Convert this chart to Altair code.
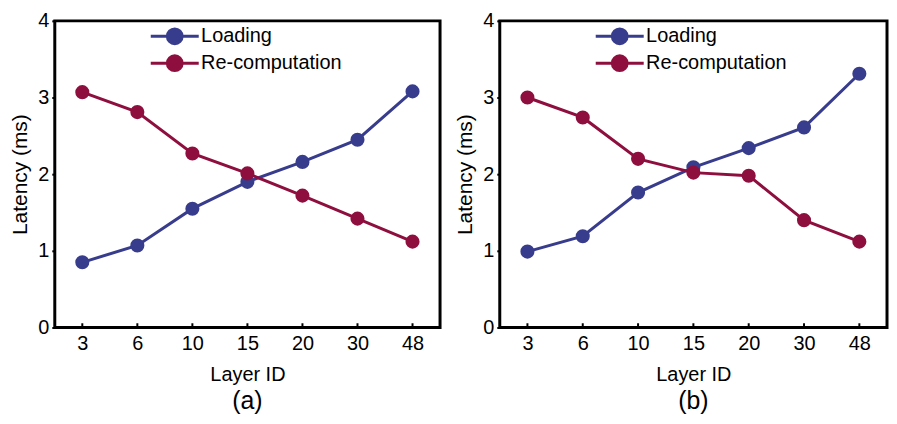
import altair as alt
import pandas as pd

layers = ["3", "6", "10", "15", "20", "30", "48"]
series_names = ["Loading", "Re-computation"]
loading_a = [0.85, 1.07, 1.55, 1.90, 2.16, 2.45, 3.08]
recomp_a = [3.07, 2.81, 2.27, 2.01, 1.72, 1.42, 1.12]
loading_b = [0.99, 1.19, 1.76, 2.09, 2.34, 2.61, 3.31]
recomp_b = [3.00, 2.74, 2.20, 2.02, 1.98, 1.40, 1.12]
y_ticks = [0, 1, 2, 3, 4]
captions = ["(a)", "(b)"]

COLORS = ["#383c8c", "#8e0f3e"]
FONT = "Liberation Sans"
FS = 20


def make_df(loading, recomp):
    rows = []
    for i, l in enumerate(layers):
        rows.append({"layer": l, "order": i, "series": series_names[0], "val": loading[i]})
        rows.append({"layer": l, "order": i, "series": series_names[1], "val": recomp[i]})
    return pd.DataFrame(rows)


def panel(loading, recomp, caption, w):
    df = make_df(loading, recomp)
    ticks_df = pd.DataFrame({"layer": layers})
    x = alt.X("layer:N", sort=layers, scale=alt.Scale(type="point", padding=0.5),
              axis=alt.Axis(title="Layer ID", labelAngle=0, tickSize=0, domain=False,
                            labelFontSize=FS, titleFontSize=FS, labelPadding=6,
                            titlePadding=11, labelColor="#000", titleColor="#000",
                            titleFontWeight="normal", labelFont=FONT, titleFont=FONT))
    y = alt.Y("val:Q", scale=alt.Scale(domain=[0, 4], nice=False),
              axis=alt.Axis(title="Latency (ms)", values=y_ticks, format="d", tickSize=3,
                            tickWidth=2, tickColor="#000", domain=False, grid=False,
                            labelFontSize=FS, titleFontSize=21, labelPadding=3,
                            titlePadding=7, labelColor="#000", titleColor="#000",
                            titleFontWeight="normal", labelFont=FONT, titleFont=FONT))
    color = alt.Color("series:N", scale=alt.Scale(domain=series_names, range=COLORS),
                      legend=alt.Legend(title=None, orient="none", legendX=108, legendY=3,
                                        padding=0,
                                        labelFontSize=FS, labelFont=FONT, labelColor="#000",
                                        symbolType="M-2.2,0L2.2,0M-0.68,0A0.68,0.68 0 1,1 0.68,0A0.68,0.68 0 1,1 -0.68,0Z",
                                        symbolSize=480, symbolStrokeWidth=3,
                                        rowPadding=0, labelOffset=14))
    base = alt.Chart(df)
    line = base.mark_line(strokeWidth=3).encode(x=x, y=y, color=color, order="order:Q")
    pts = base.mark_point(filled=True, size=200, opacity=1).encode(x=x, y=y, color=color)
    xticks = alt.Chart(ticks_df).mark_rule(color="#000", strokeWidth=2).encode(
        x=alt.X("layer:N", sort=layers), y=alt.datum(0), y2=alt.datum(0.055))
    return alt.layer(line, pts, xticks).properties(
        width=w, height=308,
        title=alt.TitleParams(caption, orient="bottom", fontSize=25, font=FONT,
                              fontWeight="normal", color="#000", offset=5),
    )


chart = alt.hconcat(
    panel(loading_a, recomp_a, captions[0], 387),
    panel(loading_b, recomp_b, captions[1], 389),
    spacing=11,
).resolve_legend(color="independent").resolve_scale(color="independent").properties(
    padding=0).configure(background="white").configure_view(stroke="#000", strokeWidth=3)

chart.save("out.html", embed_options={"renderer": "svg", "actions": False})
